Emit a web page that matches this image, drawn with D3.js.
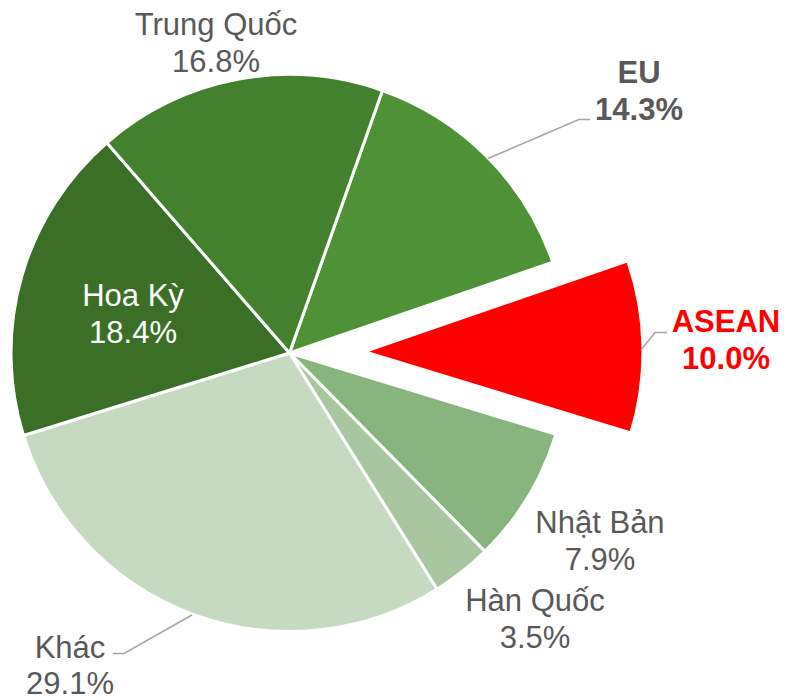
<!DOCTYPE html>
<html>
<head>
<meta charset="utf-8">
<script src="https://cdn.jsdelivr.net/npm/d3@7/dist/d3.min.js"></script>
<style>
  html, body { margin: 0; padding: 0; background: #ffffff; }
  svg { display: block; }
</style>
</head>
<body>
<svg id="chart" width="787" height="700"></svg>
<script>
// ---- data ----
const categories = ["EU", "ASEAN", "Nhật Bản", "Hàn Quốc", "Khác", "Hoa Kỳ", "Trung Quốc"];
const shares = [14.3, 10.0, 7.9, 3.5, 29.1, 18.4, 16.8];
const valueLabels = ["14.3%", "10.0%", "7.9%", "3.5%", "29.1%", "18.4%", "16.8%"];

// ---- styling / layout (not data) ----
const colors = ["#4e9136", "#ff0000", "#88b47d", "#a9c6a0", "#c6dac2", "#3b6f28", "#43812f"];
const exploded = [false, true, false, false, false, false, false];
const labelStyle = [
  {x: 639, y: 83,  fill: "#595959", weight: "bold"},
  {x: 726, y: 332, fill: "#ff0000", weight: "bold"},
  {x: 600, y: 533, fill: "#595959", weight: "normal"},
  {x: 535, y: 611, fill: "#595959", weight: "normal"},
  {x: 70,  y: 657.5, fill: "#595959", weight: "normal"},
  {x: 133, y: 306, fill: "#ffffff", weight: "normal"},
  {x: 216, y: 35,  fill: "#595959", weight: "normal"}
];
const leaders = [
  [[590, 119.5], [579, 119.5], [488, 158.5]],
  [[667, 332.5], [655, 332.5], [641, 350]],
  null, null,
  [[113, 653.5], [124, 653.5], [192, 615]],
  null, null
];

const cx = 289.5, cy = 353, R = 278.5, explodeDist = 75;
const startDeg = 19.5;

const svg = d3.select("#chart");
const g = svg.append("g").attr("transform", `translate(${cx},${cy})`);

const data = categories.map((c, i) => ({name: c, value: shares[i], label: valueLabels[i], i}));

const pie = d3.pie()
  .sort(null)
  .value(d => d.value)
  .startAngle(startDeg * Math.PI / 180)
  .endAngle(startDeg * Math.PI / 180 + 2 * Math.PI);

const arc = d3.arc().innerRadius(0).outerRadius(R);
const arcs = pie(data);

g.selectAll("path.slice")
  .data(arcs)
  .join("path")
  .attr("class", "slice")
  .attr("d", arc)
  .attr("fill", d => colors[d.data.i])
  .attr("stroke", "#ffffff")
  .attr("stroke-width", 3)
  .attr("stroke-linejoin", "round")
  .attr("transform", d => {
    if (!exploded[d.data.i]) return null;
    const mid = (d.startAngle + d.endAngle) / 2;
    return `translate(${Math.sin(mid) * explodeDist},${-Math.cos(mid) * explodeDist})`;
  });

// leader lines
const line = d3.line();
leaders.forEach(pts => {
  if (!pts) return;
  svg.append("path")
    .attr("d", line(pts))
    .attr("fill", "none")
    .attr("stroke", "#a6a6a6")
    .attr("stroke-width", 1.5);
});

// labels
const fontFamily = "'Liberation Sans', Arial, sans-serif";
data.forEach((d, i) => {
  const s = labelStyle[i];
  const t = svg.append("text")
    .attr("x", s.x)
    .attr("y", s.y)
    .attr("text-anchor", "middle")
    .attr("font-family", fontFamily)
    .attr("font-size", 31)
    .attr("font-weight", s.weight)
    .attr("fill", s.fill);
  t.append("tspan").attr("x", s.x).attr("dy", 0).text(d.name);
  t.append("tspan").attr("x", s.x).attr("dy", 36.5).text(d.label);
});
</script>
</body>
</html>
